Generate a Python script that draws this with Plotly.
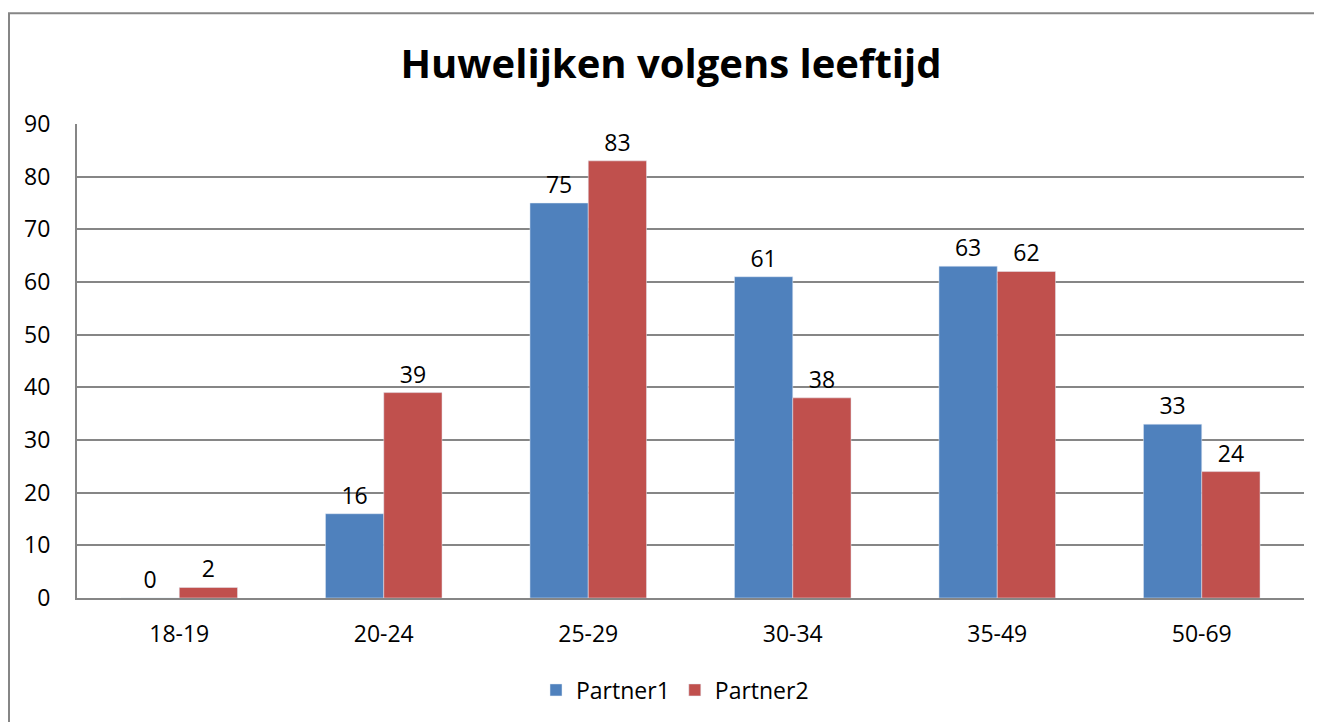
import plotly.graph_objects as go

categories = ["18-19", "20-24", "25-29", "30-34", "35-49", "50-69"]
partner1 = [0, 16, 75, 61, 63, 33]
partner2 = [2, 39, 83, 38, 62, 24]
y_ticks = [0, 10, 20, 30, 40, 50, 60, 70, 80, 90]

# page body has an 8px margin; work in figure coordinates
OFF = 8
W, H = 1322 - OFF, 722 - OFF
L, R, T, B = 77 - OFF, 1304 - OFF, 124 - OFF, 599 - OFF
pw, ph = R - L, B - T

font_family = "Open Sans, Liberation Sans, sans-serif"
FS = 23

fig = go.Figure()
fig.add_trace(go.Bar(
    x=categories, y=partner1, name="Partner1",
    marker=dict(color="#4F81BD"),
    text=[str(v) for v in partner1], textposition="outside",
    textfont=dict(size=FS, color="black"), cliponaxis=False,
))
fig.add_trace(go.Bar(
    x=categories, y=partner2, name="Partner2",
    marker=dict(color="#C0504D"),
    text=[str(v) for v in partner2], textposition="outside",
    textfont=dict(size=FS, color="black"), cliponaxis=False,
))

def px_x(px):
    return (px - OFF - L) / pw

def px_y(py):
    return (B - (py - OFF)) / ph

fig.update_layout(
    width=W, height=H,
    margin=dict(l=L, r=W - R, t=T, b=H - B, pad=0),
    paper_bgcolor="white", plot_bgcolor="white",
    font=dict(family=font_family, size=FS, color="black"),
    barmode="group", bargap=0.43, bargroupgap=0,
    title=dict(text="<b>Huwelijken volgens leeftijd</b>", x=px_x(671), xanchor="center",
               xref="paper", y=1 - (64 - OFF) / H, yanchor="middle",
               font=dict(size=40, family=font_family, color="black")),
    showlegend=True,
    legend=dict(orientation="h", x=px_x(675), xanchor="center", y=px_y(690), yanchor="middle",
                font=dict(size=FS), itemwidth=30, traceorder="normal"),
    xaxis=dict(showgrid=False, showline=True, linecolor="#868686", linewidth=2,
               ticks="", tickfont=dict(size=FS), ticklabelstandoff=14),
    yaxis=dict(range=[0, 90], tickvals=y_ticks, showgrid=True, gridcolor="#868686",
               gridwidth=1.5, showline=True, linecolor="#868686", linewidth=2,
               ticks="", tickfont=dict(size=FS), ticklabelstandoff=20, zeroline=False),
    shapes=[dict(type="rect", xref="paper", yref="paper",
                 x0=px_x(9), x1=px_x(1340), y0=px_y(740), y1=px_y(13),
                 line=dict(color="#868686", width=2), fillcolor="rgba(0,0,0,0)", layer="below")],
)

fig.write_html("out.html")
